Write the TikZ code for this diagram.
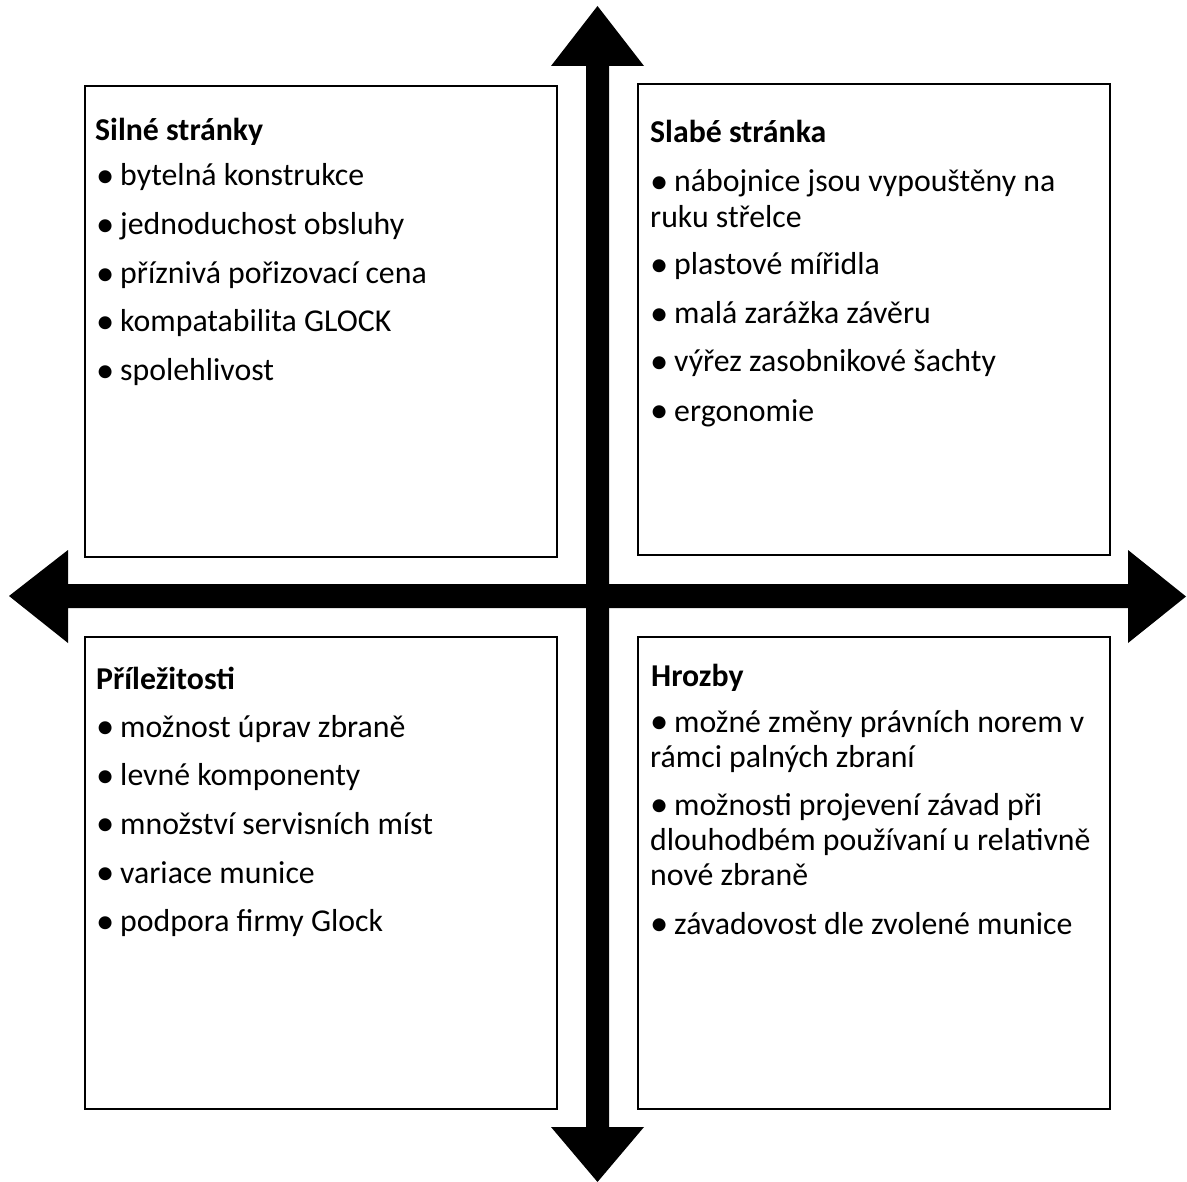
\documentclass[tikz,border=0pt]{standalone}
\usepackage{fontspec}
\setmainfont{Carlito}
\newsavebox\bulbox
\newcommand\bul{\sbox\bulbox{•}\makebox[\wd\bulbox][c]{\raisebox{-0.05em}{\scalebox{1.15}{•}}}}
\begin{document}
\begin{tikzpicture}[x=1pt,y=-1pt,
  box/.style={draw, line width=2pt, minimum width=472pt, inner sep=0pt},
  txt/.style={anchor=base west, inner sep=0pt, font=\fontsize{31.8}{38}\selectfont},
  hd/.style={anchor=base west, inner sep=0pt, font=\fontsize{31.8}{38}\selectfont\bfseries}]
\useasboundingbox (0,0) rectangle (1187,1182);
% axes
\fill (597.5,6) -- (644,66) -- (609,66) -- (609,1127) -- (644,1127) -- (597.5,1182)
  -- (551,1127) -- (586,1127) -- (586,66) -- (551,66) -- cycle;
\fill (9,596) -- (68,550) -- (68,584) -- (1128,584) -- (1128,550) -- (1186,596.5)
  -- (1128,643) -- (1128,608) -- (68,608) -- (68,643) -- cycle;
% boxes
\node[box, minimum height=471pt] (tl) at (321,321.5) {};
\node[box, minimum height=471pt] (tr) at (874,319.5) {};
\node[box, minimum height=472pt] (bl) at (321,873) {};
\node[box, minimum height=472pt] (br) at (874,873) {};
% top left
\node[hd]  (tl0) at (95,141) {Silné stránky};
\node[txt] (tl1) at (97,186) {\bul{} bytelná konstrukce};
\node[txt] (tl2) at (97,235) {\bul{} jednoduchost obsluhy};
\node[txt] (tl3) at (97,283.5) {\bul{} příznivá pořizovací cena};
\node[txt] (tl4) at (97,332) {\bul{} kompatabilita GLOCK};
\node[txt] (tl5) at (97,381) {\bul{} spolehlivost};
% top right
\node[hd]  (tr0) at (650,143) {Slabé stránka};
\node[txt] (tr1) at (651,192) {\bul{} nábojnice jsou vypouštěny na};
\node[txt] (tr1b) at (650,227.5) {ruku střelce};
\node[txt] (tr2) at (651,275) {\bul{} plastové mířidla};
\node[txt] (tr3) at (651,324) {\bul{} malá zarážka závěru};
\node[txt] (tr4) at (651,372) {\bul{} výřez zasobnikové šachty};
\node[txt] (tr5) at (651,421) {\bul{} ergonomie};
% bottom left
\node[hd]  (bl0) at (96,689) {Příležitosti};
\node[txt] (bl1) at (97,737) {\bul{} možnost úprav zbraně};
\node[txt] (bl2) at (97,785.5) {\bul{} levné komponenty};
\node[txt] (bl3) at (97,834) {\bul{} množství servisních míst};
\node[txt] (bl4) at (97,883) {\bul{} variace munice};
\node[txt] (bl5) at (97,931.5) {\bul{} podpora firmy Glock};
% bottom right
\node[hd]  (br0) at (651,686) {Hrozby};
\node[txt] (br1) at (651,732) {\bul{} možné změny právních norem v};
\node[txt] (br1b) at (650,767) {rámci palných zbraní};
\node[txt] (br2) at (651,815) {\bul{} možnosti projevení závad při};
\node[txt] (br2b) at (650,850) {dlouhodbém používaní u relativně};
\node[txt] (br2c) at (650,885) {nové zbraně};
\node[txt] (br3) at (651,934) {\bul{} závadovost dle zvolené munice};
\end{tikzpicture}
\end{document}
